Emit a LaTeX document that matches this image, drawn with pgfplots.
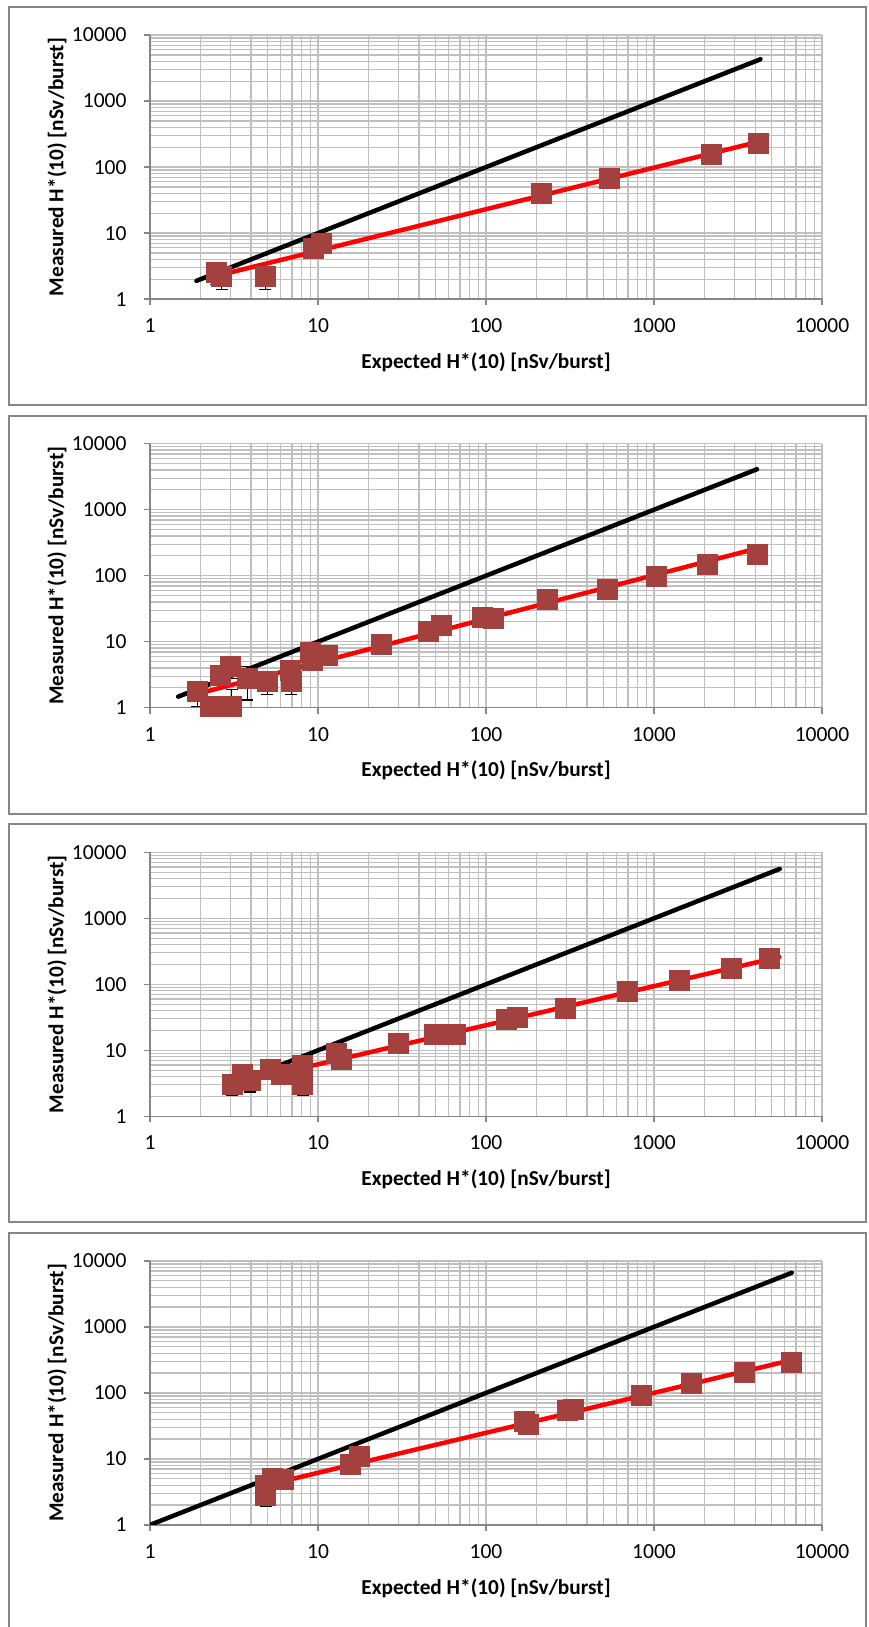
\documentclass[border=0pt]{standalone}
\usepackage{fontspec}
\setmainfont{Carlito}
\usepackage{pgfplots}
\usepackage{pgfplotstable}
\pgfplotsset{compat=1.18}

\definecolor{framegray}{RGB}{134,134,134}
\definecolor{gridgray}{RGB}{191,191,191}
\definecolor{axisgray}{RGB}{134,134,134}
\definecolor{ptred}{RGB}{163,65,62}
\definecolor{fitred}{RGB}{255,0,0}

% measured vs expected dose per burst, with uncertainty e
\pgfplotstableread{
x     y     e
2.47  2.59  0.94
2.67  2.21  0.83
4.84  2.21  0.83
9.30  5.86  0.8
10.5  6.93  0.9
212   40.8  5
544   68.9  8
2184  159   15
4195  228   20
}\runA
\pgfplotstableread{
x     y     e
1.90  1.75  0.72
2.28  1.06  0.1
3.06  1.06  0.84
2.61  3.13  0.5
3.02  4.28  1.5
3.8   2.79  1.48
5.0   2.48  0.91
6.9   2.48  0.91
6.8   3.73  0.5
8.96  7.05  1
9.2   5.28  1
11.3  6.28  1
23.9  9.2   1.2
45.4  14.2  2
54    17.7  2.5
95    23.9  3
110   23    3
231   44.4  5
528   63.5  7
1028  100   10
2084  147   15
4105  213   20
}\runB
\pgfplotstableread{
x     y     e
3.08  3.02  0.96
3.56  4.39  0.5
3.96  3.48  1.14
5.2   5.11  0.6
6.05  4.39  0.6
8.08  5.87  0.7
8.1   3.02  0.96
12.9  9.14  1
13.7  7.24  1
30    13.0  1.5
49.5  17.3  2
65.7  17.3  2
132   30.0  3
153   31.8  3
297   43.0  5
693   78.8  8
1405  114   12
2864  178   18
4820  253   25
}\runC
\pgfplotstableread{
x     y     e
4.87  3.93  0.5
4.87  2.80  0.9
5.36  5.14  0.6
6.24  4.85  0.6
15.5  8.2   1
17.6  11.0  1.5
168   37.5  4
178   33.3  4
305   55    5
330   56    5
840   92.1  9
1674  140   14
3453  204   20
6514  297   25
}\runD

\begin{document}
\begin{tikzpicture}
\useasboundingbox (0pt,0pt) rectangle (868pt,-1627pt);
% frames around the four charts
\draw[framegray, line width=2pt] (8.5pt,-7pt) rectangle (866pt,-405pt);
\draw[framegray, line width=2pt] (8.5pt,-415.6pt) rectangle (866pt,-813.6pt);
\draw[framegray, line width=2pt] (8.5pt,-824.2pt) rectangle (866pt,-1222.2pt);
\draw[framegray, line width=2pt] (8.5pt,-1232.8pt) rectangle (866pt,-1630.8pt);

\begin{axis}[at={(150pt,-299.1pt)},
    scale only axis, width=672pt, height=264pt, anchor=south west,
    xmode=log, ymode=log,
    xmin=1, xmax=10000, ymin=1, ymax=10000,
    xtick={1,10,100,1000,10000}, xticklabels={1,10,100,1000,10000},
    ytick={1,10,100,1000,10000}, yticklabels={1,10,100,1000,10000},
    minor xtick={2,3,4,5,6,7,8,9,20,30,40,50,60,70,80,90,200,300,400,500,600,700,800,900,2000,3000,4000,5000,6000,7000,8000,9000},
    minor ytick={2,3,4,5,6,7,8,9,20,30,40,50,60,70,80,90,200,300,400,500,600,700,800,900,2000,3000,4000,5000,6000,7000,8000,9000},
    axis x line*=bottom, axis y line*=left,
    axis line style={draw=axisgray, line width=1.3pt},
    grid=both,
    major grid style={draw=gridgray, line width=1.3pt},
    minor grid style={draw=gridgray, line width=1.3pt},
    tick align=outside, major tick length=6pt, minor tick length=0pt,
    tick style={draw=axisgray, line width=1.3pt},
    tick label style={font=\fontsize{21.5}{25}\selectfont},
    xticklabel style={yshift=-10pt},
    yticklabel style={xshift=-14pt},
    label style={font=\bfseries\fontsize{21.3}{25}\selectfont},
    xlabel={Expected H*(10) [nSv/burst]},
    ylabel={Measured H*(10) [nSv/burst]},
    xlabel style={at={(axis description cs:0.5,-0.2386)}, anchor=center},
    ylabel style={at={(axis description cs:-0.1384,0.5)}, anchor=center}]
\addplot[draw=black, line width=1.2pt, only marks, mark=none,
  error bars/y dir=both, error bars/y explicit,
  error bars/error mark options={rotate=90, black, line width=1.2pt, mark size=6pt}]
  table[x=x, y=y, y error=e] {\runA};
\addplot[ptred, only marks, mark=square*, mark size=10pt, mark options={ptred}] table[x=x, y=y] {\runA};
\addplot[black, line width=4.5pt, line cap=round] coordinates {(1.89,1.89) (4300,4300)};
\addplot[fitred, line width=4.5pt, line cap=round] coordinates {(2.37,2.18) (4195,242)};
\end{axis}

\begin{axis}[at={(150pt,-707.7pt)},
    scale only axis, width=672pt, height=264pt, anchor=south west,
    xmode=log, ymode=log,
    xmin=1, xmax=10000, ymin=1, ymax=10000,
    xtick={1,10,100,1000,10000}, xticklabels={1,10,100,1000,10000},
    ytick={1,10,100,1000,10000}, yticklabels={1,10,100,1000,10000},
    minor xtick={2,3,4,5,6,7,8,9,20,30,40,50,60,70,80,90,200,300,400,500,600,700,800,900,2000,3000,4000,5000,6000,7000,8000,9000},
    minor ytick={2,3,4,5,6,7,8,9,20,30,40,50,60,70,80,90,200,300,400,500,600,700,800,900,2000,3000,4000,5000,6000,7000,8000,9000},
    axis x line*=bottom, axis y line*=left,
    axis line style={draw=axisgray, line width=1.3pt},
    grid=both,
    major grid style={draw=gridgray, line width=1.3pt},
    minor grid style={draw=gridgray, line width=1.3pt},
    tick align=outside, major tick length=6pt, minor tick length=0pt,
    tick style={draw=axisgray, line width=1.3pt},
    tick label style={font=\fontsize{21.5}{25}\selectfont},
    xticklabel style={yshift=-10pt},
    yticklabel style={xshift=-14pt},
    label style={font=\bfseries\fontsize{21.3}{25}\selectfont},
    xlabel={Expected H*(10) [nSv/burst]},
    ylabel={Measured H*(10) [nSv/burst]},
    xlabel style={at={(axis description cs:0.5,-0.2386)}, anchor=center},
    ylabel style={at={(axis description cs:-0.1384,0.5)}, anchor=center}]
\addplot[draw=black, line width=1.2pt, only marks, mark=none,
  error bars/y dir=both, error bars/y explicit,
  error bars/error mark options={rotate=90, black, line width=1.2pt, mark size=6pt}]
  table[x=x, y=y, y error=e] {\runB};
\addplot[ptred, only marks, mark=square*, mark size=10pt, mark options={ptred}] table[x=x, y=y] {\runB};
\addplot[black, line width=4.5pt, line cap=round] coordinates {(1.47,1.47) (4100,4100)};
\addplot[fitred, line width=4.5pt, line cap=round] coordinates {(1.89,1.61) (4131,260)};
\end{axis}

\begin{axis}[at={(150pt,-1116.3pt)},
    scale only axis, width=672pt, height=264pt, anchor=south west,
    xmode=log, ymode=log,
    xmin=1, xmax=10000, ymin=1, ymax=10000,
    xtick={1,10,100,1000,10000}, xticklabels={1,10,100,1000,10000},
    ytick={1,10,100,1000,10000}, yticklabels={1,10,100,1000,10000},
    minor xtick={2,3,4,5,6,7,8,9,20,30,40,50,60,70,80,90,200,300,400,500,600,700,800,900,2000,3000,4000,5000,6000,7000,8000,9000},
    minor ytick={2,3,4,5,6,7,8,9,20,30,40,50,60,70,80,90,200,300,400,500,600,700,800,900,2000,3000,4000,5000,6000,7000,8000,9000},
    axis x line*=bottom, axis y line*=left,
    axis line style={draw=axisgray, line width=1.3pt},
    grid=both,
    major grid style={draw=gridgray, line width=1.3pt},
    minor grid style={draw=gridgray, line width=1.3pt},
    tick align=outside, major tick length=6pt, minor tick length=0pt,
    tick style={draw=axisgray, line width=1.3pt},
    tick label style={font=\fontsize{21.5}{25}\selectfont},
    xticklabel style={yshift=-10pt},
    yticklabel style={xshift=-14pt},
    label style={font=\bfseries\fontsize{21.3}{25}\selectfont},
    xlabel={Expected H*(10) [nSv/burst]},
    ylabel={Measured H*(10) [nSv/burst]},
    xlabel style={at={(axis description cs:0.5,-0.2386)}, anchor=center},
    ylabel style={at={(axis description cs:-0.1384,0.5)}, anchor=center}]
\addplot[draw=black, line width=1.2pt, only marks, mark=none,
  error bars/y dir=both, error bars/y explicit,
  error bars/error mark options={rotate=90, black, line width=1.2pt, mark size=6pt}]
  table[x=x, y=y, y error=e] {\runC};
\addplot[ptred, only marks, mark=square*, mark size=10pt, mark options={ptred}] table[x=x, y=y] {\runC};
\addplot[black, line width=4.5pt, line cap=round] coordinates {(3.96,3.96) (5600,5600)};
\addplot[fitred, line width=4.5pt, line cap=round] coordinates {(3.02,3.02) (5570,259)};
\end{axis}

\begin{axis}[at={(150pt,-1524.9pt)},
    scale only axis, width=672pt, height=264pt, anchor=south west,
    xmode=log, ymode=log,
    xmin=1, xmax=10000, ymin=1, ymax=10000,
    xtick={1,10,100,1000,10000}, xticklabels={1,10,100,1000,10000},
    ytick={1,10,100,1000,10000}, yticklabels={1,10,100,1000,10000},
    minor xtick={2,3,4,5,6,7,8,9,20,30,40,50,60,70,80,90,200,300,400,500,600,700,800,900,2000,3000,4000,5000,6000,7000,8000,9000},
    minor ytick={2,3,4,5,6,7,8,9,20,30,40,50,60,70,80,90,200,300,400,500,600,700,800,900,2000,3000,4000,5000,6000,7000,8000,9000},
    axis x line*=bottom, axis y line*=left,
    axis line style={draw=axisgray, line width=1.3pt},
    grid=both,
    major grid style={draw=gridgray, line width=1.3pt},
    minor grid style={draw=gridgray, line width=1.3pt},
    tick align=outside, major tick length=6pt, minor tick length=0pt,
    tick style={draw=axisgray, line width=1.3pt},
    tick label style={font=\fontsize{21.5}{25}\selectfont},
    xticklabel style={yshift=-10pt},
    yticklabel style={xshift=-14pt},
    label style={font=\bfseries\fontsize{21.3}{25}\selectfont},
    xlabel={Expected H*(10) [nSv/burst]},
    ylabel={Measured H*(10) [nSv/burst]},
    xlabel style={at={(axis description cs:0.5,-0.2386)}, anchor=center},
    ylabel style={at={(axis description cs:-0.1384,0.5)}, anchor=center}]
\addplot[draw=black, line width=1.2pt, only marks, mark=none,
  error bars/y dir=both, error bars/y explicit,
  error bars/error mark options={rotate=90, black, line width=1.2pt, mark size=6pt}]
  table[x=x, y=y, y error=e] {\runD};
\addplot[ptred, only marks, mark=square*, mark size=10pt, mark options={ptred}] table[x=x, y=y] {\runD};
\addplot[black, line width=4.5pt, line cap=round] coordinates {(1,1) (6600,6600)};
\addplot[fitred, line width=4.5pt, line cap=round] coordinates {(4.84,3.97) (6592,314)};
\end{axis}
\end{tikzpicture}
\end{document}
